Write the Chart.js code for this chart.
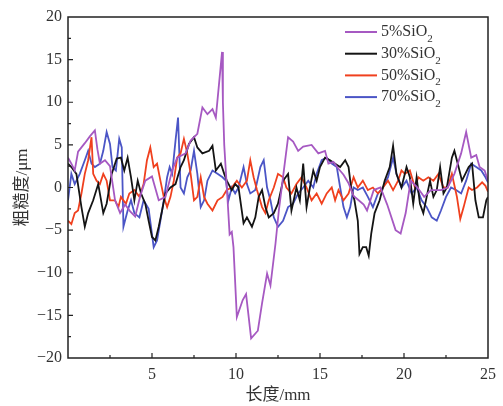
<!DOCTYPE html>
<html>
<head>
<meta charset="utf-8">
<script src="https://cdn.jsdelivr.net/npm/chart.js@4.4.1/dist/chart.umd.min.js"></script>
<style>
  html, body { margin: 0; padding: 0; background: #fff; }
  #wrap { width: 503px; height: 406px; }
</style>
</head>
<body>
<div id="wrap"><canvas id="c"></canvas></div>
<script>
  // x positions (mm) and roughness (um), one pair of arrays per curve
  const labels = ["5%SiO", "30%SiO", "50%SiO", "70%SiO"];
  const colors = ["#a659c2", "#141414", "#f0401e", "#4b55c6"];

  const x5 = [0, 0.2, 0.4, 0.6, 1.0, 1.3, 1.6, 1.75, 1.9, 2.2, 2.5, 2.8, 3.1, 3.4, 3.7, 4.0, 4.3, 4.6, 5.0, 5.4, 5.8, 6.2, 6.5, 7.0, 7.3, 7.7, 8.0, 8.3, 8.6, 8.8, 9.17, 9.22, 9.3, 9.5, 9.62, 9.75, 9.85, 10.05, 10.4, 10.6, 10.9, 11.3, 11.55, 11.85, 12.05, 12.35, 12.55, 12.85, 13.1, 13.4, 13.7, 14.0, 14.5, 14.9, 15.3, 15.5, 15.8, 16.1, 16.4, 16.7, 17.0, 17.3, 17.6, 17.8, 18.2, 18.6, 19.0, 19.5, 19.8, 20.1, 20.4, 20.8, 21.2, 21.6, 22.2, 22.6, 23.0, 23.4, 23.7, 24.0, 24.3, 24.5, 24.8, 25];
  const y5 = [3.5, 2.8, 2.0, 4.2, 5.2, 6.0, 6.7, 4.5, 2.8, 3.2, 2.5, -1.5, -3.0, -2.0, -2.8, -3.4, -1.0, 0.8, 1.3, -1.5, -1.1, 2.0, 3.5, 4.0, 5.5, 6.3, 9.4, 8.6, 9.2, 8.2, 15.9, 10, 5, -1.5, -5.5, -5.2, -7, -15.2, -13.2, -12.5, -17.7, -16.8, -13.6, -10.1, -11.5, -6.6, -2.7, 2.0, 5.9, 5.4, 4.3, 4.8, 5.0, 4.0, 4.3, 2.8, 3.0, 2.2, 1.5, 0.5, -1.0, -1.5, -2.0, -2.7, -0.3, 0, -2.0, -5.0, -5.4, -3.0, 0.8, 0, -1.1, -0.3, -0.3, 0, 1.6, 4.0, 6.5, 3.5, 3.8, 2.4, 2.0, 0.8];

  const x30 = [0, 0.2, 0.5, 0.8, 1.0, 1.2, 1.5, 1.8, 2.1, 2.3, 2.6, 2.9, 3.15, 3.35, 3.55, 3.75, 3.95, 4.15, 4.35, 4.6, 4.8, 5.0, 5.2, 5.4, 5.6, 5.8, 6.1, 6.4, 6.7, 6.9, 7.2, 7.5, 7.7, 8.0, 8.4, 8.6, 8.8, 9.1, 9.3, 9.45, 9.75, 9.95, 10.15, 10.45, 10.65, 10.95, 11.15, 11.35, 11.55, 11.75, 11.95, 12.25, 12.5, 12.8, 13.1, 13.3, 13.6, 13.8, 14.0, 14.2, 14.4, 14.6, 14.8, 15.0, 15.3, 15.6, 15.9, 16.2, 16.5, 16.7, 16.85, 17.05, 17.25, 17.35, 17.55, 17.75, 17.9, 18.05, 18.25, 18.55, 18.85, 19.15, 19.35, 19.55, 19.85, 20.15, 20.35, 20.55, 20.75, 20.95, 21.15, 21.35, 21.55, 21.75, 21.95, 22.15, 22.35, 22.55, 22.85, 23.0, 23.25, 23.45, 23.65, 23.85, 24.05, 24.25, 24.45, 24.7, 24.9, 25];
  const y30 = [2.8, 2.4, 1.6, -2.3, -4.6, -3.0, -1.5, 0.4, -3.0, -1.9, 1.6, 3.4, 3.5, 2.0, 3.5, 1.2, -1.5, 0.8, -0.7, -1.9, -3.9, -5.8, -6.2, -4.6, -2.7, -0.7, 0, 0.4, 2.4, 3.2, 5.1, 5.9, 4.7, 4.0, 4.3, 4.9, 2.0, 2.8, 1.6, 0.8, -0.3, 0.4, 0, -4.2, -3.5, -4.6, -3.5, -1.1, -0.3, -2.3, -3.5, -3.0, -1.9, 0.8, 1.6, -2.7, 0, -1.5, 2.8, -2.3, 0, 2.0, 0.8, 2.4, 3.5, 3.2, 2.8, 2.4, 3.2, 2.4, 0, -1.5, -3.9, -7.8, -7.0, -7.0, -8.0, -5.4, -3.0, -1.5, 0.8, 2.4, 4.9, 1.6, 0, 2.4, 1.2, -1.9, 1.2, -1.9, -3.0, -1.1, 0.8, -1.1, -0.3, 2.4, -0.7, 0, 3.5, 4.3, 2.4, 0.8, 1.6, 2.4, 2.8, -1.5, -3.5, -3.5, -1.5, -1.1];

  const x50 = [0, 0.2, 0.4, 0.6, 0.8, 1.0, 1.2, 1.4, 1.5, 1.7, 1.9, 2.1, 2.3, 2.5, 2.8, 3.0, 3.15, 3.45, 3.65, 3.95, 4.25, 4.5, 4.7, 4.9, 5.1, 5.3, 5.5, 5.7, 5.9, 6.1, 6.3, 6.5, 6.7, 6.9, 7.1, 7.3, 7.5, 7.7, 7.9, 8.1, 8.3, 8.6, 8.9, 9.2, 9.45, 9.75, 10.05, 10.35, 10.65, 10.85, 11.05, 11.25, 11.55, 11.75, 11.95, 12.25, 12.5, 12.8, 13.0, 13.3, 13.6, 13.9, 14.2, 14.5, 14.8, 15.1, 15.4, 15.7, 15.9, 16.1, 16.4, 16.7, 17.0, 17.25, 17.55, 17.85, 18.15, 18.45, 18.75, 19.05, 19.35, 19.65, 19.85, 20.05, 20.35, 20.65, 20.85, 21.15, 21.45, 21.75, 22.05, 22.35, 22.6, 22.85, 23.15, 23.35, 23.55, 23.85, 24.05, 24.35, 24.65, 24.85, 25];
  const y50 = [-3.9, -4.3, -3.0, -2.7, -0.7, 1.6, 3.2, 5.9, 1.6, 0.8, 0.4, 1.6, 0.8, -1.5, -1.5, -2.3, -1.1, -1.9, -0.7, -0.3, -1.1, 0.4, 3.2, 4.7, 2.4, 2.8, 0.8, -1.1, -2.3, -1.1, 0.8, 3.5, 4.0, 5.7, 4.0, 1.6, -1.5, -1.1, 1.2, -1.1, -1.9, -2.7, -1.5, -1.1, -0.3, 0, 0.8, 0, 0.8, 3.2, 1.2, -0.3, -2.3, -3.0, -1.5, 0, 1.6, 1.2, 0, -0.7, 0.4, 1.2, 0, -1.5, -0.7, -1.9, -0.7, 0, -1.5, -0.3, -1.5, -0.7, 1.2, 0, 0.8, -0.3, 0, -0.7, 0, 0.8, -0.3, 0.8, 2.0, 1.6, 2.0, 0, 1.2, 0.8, 1.2, 0.8, 1.6, 0, 0, 1.6, -1.1, -3.7, -2.3, 0, -0.3, 0, 0.6, 0.2, -0.5];

  const x70 = [0, 0.2, 0.4, 0.7, 1.0, 1.2, 1.4, 1.6, 1.9, 2.1, 2.3, 2.5, 2.65, 2.85, 3.05, 3.2, 3.3, 3.55, 3.75, 3.95, 4.25, 4.5, 4.8, 5.1, 5.3, 5.5, 5.7, 5.9, 6.05, 6.2, 6.4, 6.55, 6.7, 6.9, 7.1, 7.3, 7.5, 7.7, 7.9, 8.1, 8.3, 8.6, 8.9, 9.2, 9.4, 9.55, 9.75, 9.95, 10.15, 10.45, 10.65, 10.85, 11.15, 11.45, 11.65, 11.85, 12.05, 12.25, 12.5, 12.8, 13.1, 13.4, 13.7, 14.0, 14.3, 14.6, 14.8, 15.1, 15.4, 15.7, 16.0, 16.2, 16.4, 16.6, 16.8, 17.0, 17.25, 17.55, 17.85, 18.15, 18.45, 18.75, 19.05, 19.35, 19.55, 19.85, 20.15, 20.45, 20.75, 21.05, 21.35, 21.65, 21.95, 22.2, 22.5, 22.8, 23.1, 23.4, 23.7, 24.0, 24.3, 24.6, 24.85, 25];
  const y70 = [-1.5, 1.6, 0.4, 1.6, 3.2, 4.3, 2.8, 2.4, 2.8, 4.3, 6.5, 5.1, 2.4, 2.0, 5.7, 4.7, -4.6, -2.7, -1.5, -3.0, -3.5, -1.5, -2.5, -7.0, -6.2, -3.9, -1.5, 1.2, 2.4, 1.6, 5.5, 8.2, 0, -0.7, 1.2, 2.0, 4.3, 1.6, -2.3, -1.5, 0.8, 2.0, 1.6, 1.2, 0.8, -1.5, 0, -0.7, 0, 2.4, 0.4, -0.7, -0.3, 2.4, 3.2, 0, -1.5, -3.5, -4.6, -3.9, -2.3, -1.9, -0.7, 0, 0.8, 0, 1.6, 3.2, 3.5, 2.8, 2.4, 0, -2.3, -3.5, -2.3, 0, -0.3, 0, -1.1, -2.3, -0.7, 0, 1.2, 3.5, 1.6, 0, 0.8, -0.7, 0, -1.5, -2.3, -3.5, -3.9, -2.7, -1.1, 0, -0.3, -0.7, 0.8, 2.8, 2.4, 2.0, 1.2, 0.6];

  const xTicks = [5, 10, 15, 20, 25];
  const yTicks = [20, 15, 10, 5, 0, -5, -10, -15, -20];

  function pts(xs, ys) {
    return xs.map((x, i) => ({ x: x, y: ys[i] }));
  }

  const series = [pts(x5, y5), pts(x30, y30), pts(x50, y50), pts(x70, y70)];

  const serif = "'Liberation Serif', 'Noto Sans CJK SC', serif";
  const textColor = "#333";

  // frame, inward ticks and the legend with subscripts
  const framePlugin = {
    id: "frame",
    afterDraw(chart) {
      const ctx = chart.ctx;
      const a = chart.chartArea;
      const xs = chart.scales.x;
      const ys = chart.scales.y;
      ctx.save();
      ctx.strokeStyle = "#222";
      ctx.lineWidth = 1.5;
      ctx.strokeRect(a.left, a.top, a.right - a.left, a.bottom - a.top);
      ctx.lineWidth = 1.2;
      ctx.beginPath();
      for (let v = 2.5; v < 25; v += 2.5) {
        const px = xs.getPixelForValue(v);
        const len = v % 5 === 0 ? 5 : 3;
        ctx.moveTo(px, a.bottom);
        ctx.lineTo(px, a.bottom - len);
      }
      for (let v = -17.5; v < 20; v += 2.5) {
        const py = ys.getPixelForValue(v);
        const len = v % 5 === 0 ? 5 : 3;
        ctx.moveTo(a.left, py);
        ctx.lineTo(a.left + len, py);
      }
      ctx.stroke();

      // legend
      ctx.textBaseline = "middle";
      chart.data.datasets.forEach((ds, i) => {
        const y = 32 + i * 21.7;
        ctx.strokeStyle = ds.borderColor;
        ctx.lineWidth = 2;
        ctx.beginPath();
        ctx.moveTo(345, y);
        ctx.lineTo(377, y);
        ctx.stroke();
        ctx.fillStyle = textColor;
        ctx.font = "16px " + serif;
        ctx.fillText(ds.label, 381, y);
        const w = ctx.measureText(ds.label).width;
        ctx.font = "11px " + serif;
        ctx.fillText("2", 381 + w, y + 7);
      });
      ctx.restore();
    }
  };

  new Chart(document.getElementById("c"), {
    type: "line",
    data: {
      datasets: series.map((d, i) => ({
        label: labels[i],
        data: d,
        borderColor: colors[i],
        borderWidth: 1.8,
        pointRadius: 0,
        tension: 0,
        fill: false
      }))
    },
    options: {
      responsive: true,
      maintainAspectRatio: false,
      animation: false,
      layout: { padding: { top: 17, right: 12, left: 0, bottom: 0 } },
      plugins: { legend: { display: false }, tooltip: { enabled: false } },
      scales: {
        x: {
          type: "linear",
          min: 0,
          max: 25,
          grid: { display: false, drawTicks: false },
          border: { display: false },
          afterBuildTicks(s) { s.ticks = xTicks.map(v => ({ value: v })); },
          ticks: { padding: 7, color: textColor, font: { family: serif, size: 16 } },
          title: { display: true, text: "长度/mm", color: textColor, padding: { top: 0, bottom: 0 }, font: { family: serif, size: 17 } },
          afterFit(s) { s.height = 48; }
        },
        y: {
          min: -20,
          max: 20,
          grid: { display: false, drawTicks: false },
          border: { display: false },
          afterBuildTicks(s) { s.ticks = yTicks.map(v => ({ value: v })); },
          ticks: {
            padding: 6,
            color: textColor,
            font: { family: serif, size: 16 },
            callback: v => (v < 0 ? "\u2212" + Math.abs(v) : String(v))
          },
          title: { display: true, text: "粗糙度/μm", color: textColor, padding: { top: 12, bottom: 0 }, font: { family: serif, size: 17 } },
          afterFit(s) { s.width = 68; }
        }
      }
    },
    plugins: [framePlugin]
  });
</script>
</body>
</html>
